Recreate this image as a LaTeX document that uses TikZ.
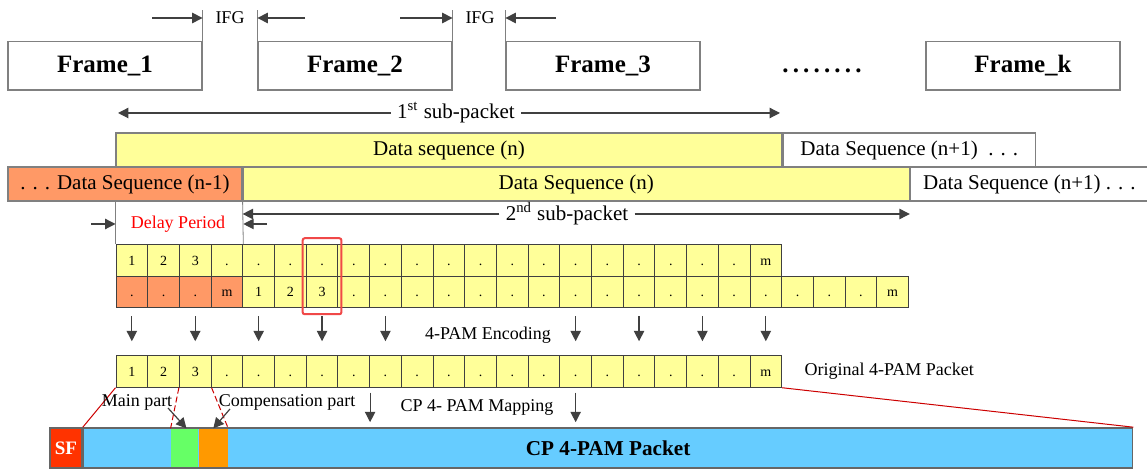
\documentclass[tikz,border=0pt]{standalone}
\usepackage{fontspec}
\setmainfont{Liberation Serif}
\usetikzlibrary{arrows.meta, positioning, calc}

\definecolor{lineGray}{HTML}{808080}
\definecolor{cellGray}{HTML}{404040}
\definecolor{seqYellow}{HTML}{FFFF99}
\definecolor{seqOrange}{HTML}{FF9966}
\definecolor{pktBlue}{HTML}{66CCFF}
\definecolor{sfRed}{HTML}{FF3300}
\definecolor{mainGreen}{HTML}{66FF66}
\definecolor{compOrange}{HTML}{FF9900}
\definecolor{markRed}{HTML}{F04848}
\definecolor{linkRed}{HTML}{CC0000}

% one row of symbol cells: name, y, number of old (orange) cells, labels
\newcommand{\CellRow}[4]{
    \foreach \lbl [count=\i] in {#4} {
        \ifnum\i>#3\relax\def\cellFill{seqYellow}\else\def\cellFill{seqOrange}\fi
        \node[cell, fill=\cellFill] (#1\i) at ({116+31.7*(\i-0.5)}, #2) {\lbl};
    }
}

\tikzset{
    % Frames and sequences
    frameBox/.style={rectangle, draw=lineGray, line width=0.6pt, minimum width=97pt,
        minimum height=24.25pt, inner sep=0pt, font=\fontsize{12.5}{14}\selectfont\bfseries},
    seqBox/.style={rectangle, draw=lineGray, line width=0.6pt, minimum height=17pt,
        inner sep=0pt, font=\fontsize{10.5}{12}\selectfont},
    seqText/.style={font=\fontsize{10.5}{12}\selectfont, inner sep=3pt},
    labelText/.style={font=\fontsize{9}{11}\selectfont, inner sep=3pt},
    % Symbol cells
    cell/.style={rectangle, draw=cellGray, line width=0.5pt, minimum width=15.85pt,
        minimum height=15.75pt, inner sep=0pt, text height=5pt, text depth=0pt,
        font=\fontsize{7}{8}\selectfont},
    markBox/.style={draw=markRed, line width=1pt, rounded corners=1pt},
    arrowDark/.style={-{Triangle[width=5.2pt,length=5.2pt]}, draw=cellGray, line width=0.6pt},
    % Packet
    pktBox/.style={rectangle, draw=lineGray!80!black, line width=0.8pt, minimum height=20pt,
        inner sep=0pt, font=\fontsize{10.6}{12}\selectfont\bfseries},
    partBox/.style={rectangle, draw=none, minimum height=19.2pt, inner sep=0pt},
    linkLine/.style={draw=linkRed, line width=0.5pt},
    linkDash/.style={linkLine, dashed, dash pattern=on 3pt off 1.5pt}
}

\begin{document}
\begin{tikzpicture}[x=0.5pt, y=-0.5pt]
\useasboundingbox (0,0) rectangle (1147,469);

% frames
\node[frameBox] (f1) at (105,65.75) {Frame\_1};
\node[frameBox] (f2) at (355,65.75) {Frame\_2};
\node[frameBox] (f3) at (603,65.75) {Frame\_3};
\node[frameBox] (fk) at (1023,65.75) {Frame\_k};
\node[font=\fontsize{12.5}{14}\selectfont\bfseries] (fdots) at (822,71) {.\,.\,.\,.\,.\,.\,.\,.};

% inter frame gaps
\draw[lineGray] (f1.north east) -- ++(0,-31) coordinate (g1a);
\draw[lineGray] (f2.north west) -- ++(0,-31) coordinate (g1b);
\draw[lineGray] (f2.north east) -- ++(0,-31) coordinate (g2a);
\draw[lineGray] (f3.north west) -- ++(0,-31) coordinate (g2b);
\node[labelText] (ifg1) at (230,18) {IFG};
\node[labelText] (ifg2) at (480,18) {IFG};
\coordinate (t1a) at (152,18);
\coordinate (t1b) at (305,18);
\coordinate (t2a) at (400,18);
\coordinate (t2b) at (556,18);
\draw[arrowDark] (t1a) -- (g1a |- ifg1);
\draw[arrowDark] (t1b) -- (g1b |- ifg1);
\draw[arrowDark] (t2a) -- (g2a |- ifg2);
\draw[arrowDark] (t2b) -- (g2b |- ifg2);

% first sub-packet
\node[seqText] (sub1) at (456,113) {1\textsuperscript{st} sub-packet};
\coordinate (s1l) at (118,113);
\coordinate (s1r) at (780,113);
\draw[arrowDark] (sub1) -- (s1l);
\draw[arrowDark] (sub1) -- (s1r);

% data sequences
\node[seqBox, fill=seqYellow, minimum width=333pt] (dsTop) at (449,150) {Data sequence (n)};
\node[seqBox, minimum width=126pt, right=0pt of dsTop] (dsNext) {Data Sequence (n+1) ~. . .};
\node[seqBox, fill=seqOrange, minimum width=117pt] (dsPrev) at (125,184) {. . . Data Sequence (n-1)};
\node[seqBox, fill=seqYellow, minimum width=333pt, right=0pt of dsPrev] (dsCur) {Data Sequence (n)};
\node[seqBox, minimum width=119pt, right=0pt of dsCur] (dsAfter) {Data Sequence (n+1) . . .};

% symbol rows
\CellRow{a}{260.5}{0}{1,2,3,.,.,.,.,.,.,.,.,.,.,.,.,.,.,.,.,.,m}
\CellRow{b}{292}{4}{.,.,.,m,1,2,3,.,.,.,.,.,.,.,.,.,.,.,.,.,.,.,.,.,m}
\CellRow{o}{371.5}{0}{1,2,3,.,.,.,.,.,.,.,.,.,.,.,.,.,.,.,.,.,m}

% delay period
\draw[lineGray] (dsPrev.south east) -- (a4.north east);
\draw[lineGray] (a1.north west) -- (a1.north west |- dsPrev.south);
\node[labelText, text=red] (delay) at (178,224) {Delay Period};
\coordinate (dlTail) at (91,224);
\coordinate (drTail) at (267,224);
\draw[arrowDark] (dlTail) -- (a1.north west |- delay);
\draw[arrowDark] (drTail) -- (a4.north east |- delay);

% second sub-packet
\node[seqText] (sub2) at (567,214) {2\textsuperscript{nd} sub-packet};
\draw[arrowDark] (sub2) -- (dsCur.south west |- sub2);
\draw[arrowDark] (sub2) -- (dsCur.south east |- sub2);

\draw[markBox] ([shift={(-3,-6)}]a7.north west) rectangle ([shift={(3,6)}]b7.south east);

% encoding
\foreach \i in {1,3,5,7,9,15,17,19,21}
    \draw[arrowDark, shorten <=4pt, shorten >=7pt] (b\i.south) -- (o\i.north);
\node[labelText] (enc) at (488,335) {4-PAM Encoding};
\node[labelText, right=8pt of o21] (origLbl) {Original 4-PAM Packet};

% CP packet
\node[pktBox, fill=sfRed, minimum width=16pt, text=white, font=\fontsize{9.5}{11}\selectfont\bfseries] (sf) at (66,448) {SF};
\node[pktBox, fill=pktBlue, minimum width=524.5pt, right=0pt of sf] (cp) {CP 4-PAM Packet};
\node[partBox, fill=mainGreen, minimum width=13.5pt] (gp) at (184.5,448) {};
\node[partBox, fill=compOrange, minimum width=14.5pt, right=0pt of gp] (op) {};

\draw[linkLine] (o1.south west) -- (cp.north west);
\draw[linkLine] (o21.south east) -- (cp.north east);
\draw[linkDash] (o3.south west) -- (gp.north west);
\draw[linkDash] (o3.south east) -- (op.north east);

\node[labelText] (mainLbl) at (137,402) {Main part};
\node[labelText] (compLbl) at (287,402) {Compensation part};
\coordinate (mainTail) at (168,408);
\coordinate (compTail) at (230,409);
\draw[arrowDark] (mainTail) -- ([xshift=1pt]gp.north);
\draw[arrowDark] (compTail) -- (op.north);

% mapping
\node[labelText] (mapLbl) at (477,407) {CP 4- PAM Mapping};
\draw[arrowDark, shorten <=2.5pt, shorten >=2.5pt] (o8.south east) -- (o8.south east |- cp.north);
\draw[arrowDark, shorten <=2.5pt, shorten >=2.5pt] (o15.south) -- (o15.south |- cp.north);
\end{tikzpicture}
\end{document}
